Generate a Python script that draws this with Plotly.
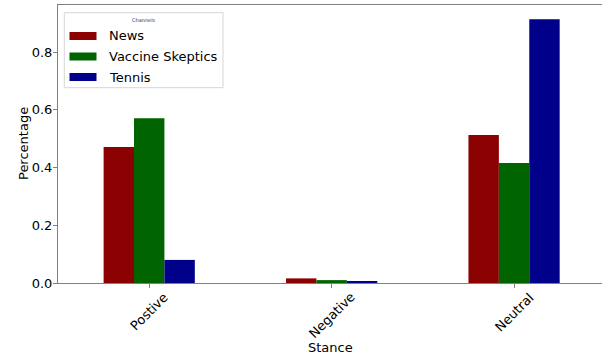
import plotly.graph_objects as go

categories = ["Postive", "Negative", "Neutral"]
news = [0.471, 0.016, 0.513]
vaccine = [0.571, 0.010, 0.416]
tennis = [0.080, 0.004, 0.914]
series_names = ["News", "Vaccine Skeptics", "Tennis"]
colors = ["#8B0000", "#006400", "#00008B"]
yticks = [0.0, 0.2, 0.4, 0.6, 0.8]
legend_title = "Channels"

FONT = "DejaVu Sans"
TXT = "#000000"
W, H = 602, 354
L, R, T, B = 58, 0, 5, 71
PW, PH = W - L - R, H - T - B


def px(x):
    return (x - L) / PW


def py(y):
    return (H - B - y) / PH


fig = go.Figure()
for name, vals, c in zip(series_names, [news, vaccine, tennis], colors):
    fig.add_trace(go.Bar(x=categories, y=vals, name=name, marker_color=c,
                         marker_line_width=0, showlegend=False))

axis_line = "#808080"
fig.update_layout(
    width=W, height=H,
    margin=dict(l=L, r=R, t=T, b=B),
    paper_bgcolor="white", plot_bgcolor="white",
    barmode="group", bargap=0.5, bargroupgap=0,
    font=dict(family=FONT, size=13, color=TXT),
    showlegend=False,
)
fig.update_xaxes(
    type="category", range=[-0.5, 2.482],
    showline=True, linecolor=axis_line, linewidth=1, mirror=True,
    ticks="outside", ticklen=4, tickcolor=axis_line,
    showticklabels=False, showgrid=False, zeroline=False,
)
fig.update_yaxes(
    range=[0, 0.963], tickvals=yticks, ticktext=[f"{v:.1f}" for v in yticks],
    showline=True, linecolor=axis_line, linewidth=1,
    ticks="outside", ticklen=4, tickcolor=axis_line, ticklabelstandoff=-2,
    showgrid=False, zeroline=False, tickfont=dict(size=13, color=TXT),
)
# rotated category labels
for cat in categories:
    fig.add_annotation(x=cat, xref="x", y=0, yref="paper", text=cat, showarrow=False,
                       textangle=-45, xanchor="center", yanchor="top", yshift=-4,
                       font=dict(family=FONT, size=13, color=TXT))
# axis titles
fig.add_annotation(x=0.5, xref="paper", y=py(347), yref="paper", text="Stance", showarrow=False,
                   xanchor="center", yanchor="middle",
                   font=dict(family=FONT, size=13, color=TXT))
fig.add_annotation(x=px(23), xref="paper", y=0.5, yref="paper", text="Percentage", showarrow=False,
                   textangle=-90, xanchor="center", yanchor="middle",
                   font=dict(family=FONT, size=13, color=TXT))

# legend (matplotlib-style box with wide colour patches)
fig.add_shape(type="rect", xref="paper", yref="paper",
              x0=px(64.3), x1=px(223), y0=py(87.7), y1=py(12.7),
              line=dict(color="#d6d6d6", width=1), fillcolor="rgba(255,255,255,0.8)",
              layer="above")
fig.add_annotation(x=px(144), xref="paper", y=py(20), yref="paper", text=legend_title,
                   showarrow=False, xanchor="center", yanchor="middle",
                   font=dict(family=FONT, size=5, color="#333333"))
centers = [36, 56.5, 77]
for name, c, yc in zip(series_names, colors, centers):
    fig.add_shape(type="rect", xref="paper", yref="paper",
                  x0=px(69.5), x1=px(96.5), y0=py(yc + 4), y1=py(yc - 4),
                  line=dict(width=0), fillcolor=c, layer="above")
    fig.add_annotation(x=px(107), xref="paper", y=py(yc), yref="paper", text=name,
                       showarrow=False, xanchor="left", yanchor="middle",
                       font=dict(family=FONT, size=13, color=TXT))

fig.write_html("out.html", config={"displayModeBar": False},
               post_script="document.body.style.margin='0';")
